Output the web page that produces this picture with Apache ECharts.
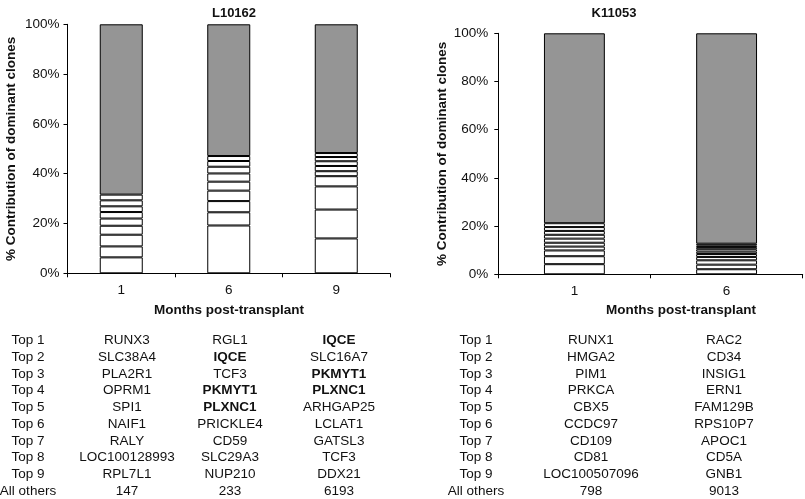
<!DOCTYPE html>
<html>
<head>
<meta charset="utf-8">
<script src="https://cdn.jsdelivr.net/npm/echarts@6/dist/echarts.min.js"></script>
<style>
html,body{margin:0;padding:0;background:#fff;}
#c{width:805px;height:499px;}
</style>
</head>
<body>
<div id="c"></div>
<script>
// ---- data ----
const leftTitle = 'L10162';
const rightTitle = 'K11053';
const leftMonths = ['1', '6', '9'];
const rightMonths = ['1', '6'];
// stacked segment sizes (%), bottom = Top 1
const leftMonth1 = [6.4, 4.4, 4.7, 3.6, 2.9, 2.6, 2.3, 2.4, 2.3];
const leftMonth6 = [19.2, 5.3, 4.5, 4.2, 3.6, 3.3, 2.7, 2.3, 2.0];
const leftMonth9 = [14.0, 11.6, 9.3, 4.1, 2.0, 2.1, 1.9, 1.7, 1.6];
const leftOthers = [68.4, 52.9, 51.7];
const rightMonth1 = [4.2, 3.3, 2.4, 1.6, 1.6, 1.7, 1.6, 1.6, 1.6, 1.6];
const rightMonth6 = [2.1, 1.9, 1.8, 1.4, 1.2, 1.0, 1.0, 0.9, 0.7, 0.7];
const rightOthers = [78.8, 87.3];
const yTicks = ['0%', '20%', '40%', '60%', '80%', '100%'];

const rowLabels = ['Top 1','Top 2','Top 3','Top 4','Top 5','Top 6','Top 7','Top 8','Top 9','All others'];
const leftGenes1 = ['RUNX3','SLC38A4','PLA2R1','OPRM1','SPI1','NAIF1','RALY','LOC100128993','RPL7L1','147'];
const leftGenes6 = ['RGL1','IQCE','TCF3','PKMYT1','PLXNC1','PRICKLE4','CD59','SLC29A3','NUP210','233'];
const leftGenes9 = ['IQCE','SLC16A7','PKMYT1','PLXNC1','ARHGAP25','LCLAT1','GATSL3','TCF3','DDX21','6193'];
const leftBold6 = [1, 3, 4];
const leftBold9 = [0, 2, 3];
const rightGenes1 = ['RUNX1','HMGA2','PIM1','PRKCA','CBX5','CCDC97','CD109','CD81','LOC100507096','798'];
const rightGenes6 = ['RAC2','CD34','INSIG1','ERN1','FAM129B','RPS10P7','APOC1','CD5A','GNB1','9013'];

// ---- build ----
const FONT = '"Liberation Sans", Arial, Helvetica, sans-serif';
const FS = 13.5;
const TXT = '#111';
const GRAY = '#959595';

function yAxisCfg(gridIndex, margin) {
  return {
    type: 'value', gridIndex, min: 0, max: 100, interval: 20,
    name: '% Contribution of dominant clones',
    nameLocation: 'middle', nameGap: 49, nameRotate: 90,
    nameTextStyle: { fontFamily: FONT, fontSize: FS, fontWeight: 'bold', color: TXT },
    axisLine: { show: true, lineStyle: { color: '#000', width: 1 } },
    axisTick: { show: true, inside: false, length: 4, lineStyle: { color: '#000' } },
    splitLine: { show: false },
    axisLabel: { margin, fontFamily: FONT, fontSize: FS, color: TXT,
      formatter: v => yTicks[Math.round(v / 20)] }
  };
}
function xAxisCfg(gridIndex, cats) {
  return {
    type: 'category', gridIndex, data: cats, boundaryGap: true,
    axisLine: { show: true, lineStyle: { color: '#000', width: 1 } },
    axisTick: { show: true, inside: false, length: 4, alignWithLabel: false, lineStyle: { color: '#000' } },
    axisLabel: { margin: 10, fontFamily: FONT, fontSize: FS, color: TXT }
  };
}

const series = [];
function addStack(xi, months, others, stackName) {
  const n = months[0].length;
  for (let k = 0; k < n; k++) {
    series.push({
      type: 'bar', xAxisIndex: xi, yAxisIndex: xi, stack: stackName,
      name: stackName + ' Top ' + (k + 1),
      barWidth: '40%',
      data: months.map(m => m[k]),
      itemStyle: { color: '#fff', borderColor: '#000', borderWidth: 1 },
      silent: true
    });
  }
  series.push({
    type: 'bar', xAxisIndex: xi, yAxisIndex: xi, stack: stackName,
    name: stackName + ' All others', barWidth: '40%',
    data: others,
    itemStyle: { color: GRAY, borderColor: '#000', borderWidth: 1 },
    silent: true
  });
}
addStack(0, [leftMonth1, leftMonth6, leftMonth9], leftOthers, 'L');
addStack(1, [rightMonth1, rightMonth6], rightOthers, 'R');

const rowY = [340, 357, 374, 390.5, 407, 424, 441, 457.5, 474, 491];
const graphics = [];
function txt(x, y, s, bold) {
  graphics.push({
    type: 'text', x, y, silent: true,
    style: { text: s, fill: TXT, font: (bold ? 'bold ' : '') + FS + 'px ' + FONT,
      textAlign: 'center', textVerticalAlign: 'middle', align: 'center', verticalAlign: 'middle' }
  });
}
txt(229, 310, 'Months post-transplant', true);
txt(681, 310, 'Months post-transplant', true);
rowLabels.forEach((r, i) => {
  txt(28, rowY[i], r, false);
  txt(476, rowY[i], r, false);
  txt(127, rowY[i], leftGenes1[i], false);
  txt(230, rowY[i], leftGenes6[i], leftBold6.includes(i));
  txt(339, rowY[i], leftGenes9[i], leftBold9.includes(i));
  txt(591, rowY[i], rightGenes1[i], false);
  txt(724, rowY[i], rightGenes6[i], false);
});

const option = {
  animation: false,
  backgroundColor: '#fff',
  title: [
    { text: leftTitle, left: 229, top: 2, textAlign: 'center',
      textStyle: { fontFamily: FONT, fontSize: 13, fontWeight: 'bold', color: TXT } },
    { text: rightTitle, left: 609, top: 2, textAlign: 'center',
      textStyle: { fontFamily: FONT, fontSize: 13, fontWeight: 'bold', color: TXT } }
  ],
  grid: [
    { left: 67.5, top: 24.3, width: 322.5, height: 249, containLabel: false },
    { left: 498.3, top: 33.3, width: 304.4, height: 241, containLabel: false }
  ],
  xAxis: [xAxisCfg(0, leftMonths), xAxisCfg(1, rightMonths)],
  yAxis: [yAxisCfg(0, 8), yAxisCfg(1, 10)],
  series,
  graphic: graphics
};
const chart = echarts.init(document.getElementById('c'), null, { renderer: 'canvas' });
chart.setOption(option);
</script>
</body>
</html>
